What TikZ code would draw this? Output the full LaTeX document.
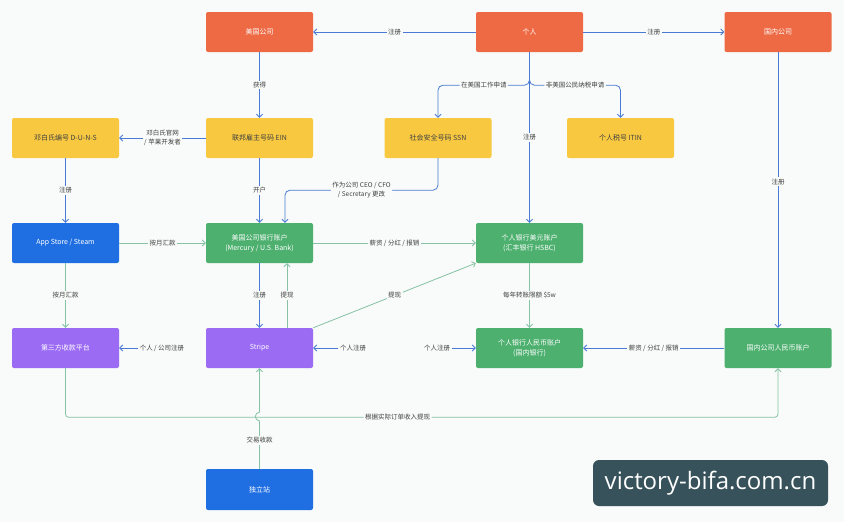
\documentclass[tikz,border=0pt]{standalone}
\usepackage{fontspec}
\setmainfont{Noto Sans CJK SC}
\newfontfamily\wmfont{Open Sans}
\usepackage{xcolor}
\usepackage{tikz}
\usetikzlibrary{arrows.meta}
\definecolor{bgc}{HTML}{F8FBF9}
\definecolor{cred}{HTML}{EE6A45}
\definecolor{cyel}{HTML}{F8C940}
\definecolor{cblue}{HTML}{1F6FE2}
\definecolor{cgreen}{HTML}{4DB06F}
\definecolor{cpurp}{HTML}{9B6BF3}
\definecolor{cline}{HTML}{4A7AD4}
\definecolor{cgline}{HTML}{86C2A4}
\definecolor{ctext}{HTML}{404040}
\definecolor{cwm}{HTML}{37525A}
\tikzstyle{basebox} = [rectangle, rounded corners=2pt, text centered, align=center, inner sep=2pt, minimum width=107pt, minimum height=40pt, font=\fontsize{7}{10}\selectfont, text=white]
\tikzstyle{redbox} = [basebox, fill=cred]
\tikzstyle{yelbox} = [basebox, fill=cyel, text=ctext]
\tikzstyle{bluebox} = [basebox, fill=cblue]
\tikzstyle{greenbox} = [basebox, fill=cgreen]
\tikzstyle{purpbox} = [basebox, fill=cpurp]
\tikzstyle{lbl} = [fill=bgc, inner sep=1.5pt, font=\fontsize{6.5}{9}\selectfont, text=ctext, align=center]
\tikzstyle{bl} = [draw=cline, line width=0.8pt, ->]
\tikzstyle{gr} = [draw=cgline, line width=0.8pt, ->]
\tikzset{>={Straight Barb[length=3pt,width=6pt]}}

\begin{document}
\begin{tikzpicture}[x=1pt,y=-1pt]
	\useasboundingbox (0,0) rectangle (844,522);
	\fill[bgc] (0,0) rectangle (844,522);
	% top row
	\node[redbox] (usco) at (259.5,32) {美国公司};
	\node[redbox] (ren) at (529.5,32) {个人};
	\node[redbox] (cnco) at (778,32) {国内公司};
	% numbers
	\node[yelbox] (duns) at (65.5,138) {邓白氏编号 D-U-N-S};
	\node[yelbox] (ein) at (259.5,138) {联邦雇主号码 EIN};
	\node[yelbox] (ssn) at (438,138) {社会安全号码 SSN};
	\node[yelbox] (itin) at (620.5,138) {个人税号 ITIN};
	% accounts
	\node[bluebox] (appstore) at (65.5,243) {App Store / Steam};
	\node[greenbox] (usbank) at (259.5,243) {美国公司银行账户\\(Mercury / U.S. Bank)};
	\node[greenbox] (hsbc) at (529.5,243) {个人银行美元账户\\(汇丰银行 HSBC)};
	% platforms
	\node[purpbox] (thirdpay) at (65.5,348) {第三方收款平台};
	\node[purpbox] (stripe) at (259.5,348) {Stripe};
	\node[greenbox] (rmb) at (529.5,348) {个人银行人民币账户\\(国内银行)};
	\node[greenbox] (cnrmb) at (778,348) {国内公司人民币账户};
	\node[bluebox, minimum height=41pt] (indep) at (259.5,489.5) {独立站};
	% free labels
	\node[lbl] (tpreg) at (162,348) {个人 / 公司注册};
	\node[lbl] (streg) at (353,348) {个人注册};
	\node[lbl] (rmbreg) at (437,348) {个人注册};
	% connectors
	\draw[bl] (ren.west) -- node[lbl] {注册} (usco.east);
	\draw[bl] (ren.east) -- node[lbl] {注册} (cnco.west);
	\draw[bl] (usco.south) -- node[lbl] {获得} (ein.north);
	\draw[bl] (ein.west) -- node[lbl] {邓白氏官网\\/ 苹果开发者} (duns.east);
	\draw[bl] (duns.south) -- node[lbl] {注册} (appstore.north);
	\draw[bl] (ein.south) -- node[lbl] {开户} (usbank.north);
	\draw[bl, rounded corners=5pt] (ren.south) -- ++(0,33) -| node[lbl, pos=0.25] {在美国工作申请} (ssn.north);
	\draw[bl, rounded corners=5pt] (ren.south) -- ++(0,33) -| node[lbl, pos=0.25] {非美国公民纳税申请} (itin.north);
	\draw[bl] (ren.south) -- node[lbl] {注册} (hsbc.north);
	\draw[bl, rounded corners=5pt] (ssn.south) -- ++(0,32) -| node[lbl, pos=0.25] {作为公司 CEO / CFO\\/ Secretary 更改} ([xshift=25.5pt]usbank.north);
	\draw[bl] (cnco.south) -- node[lbl, pos=0.47] {注册} (cnrmb.north);
	\draw[gr] (appstore.east) -- node[lbl] {按月汇款} (usbank.west);
	\draw[gr] (appstore.south) -- node[lbl] {按月汇款} (thirdpay.north);
	\draw[gr] (usbank.east) -- node[lbl] {薪资 / 分红 / 报销} (hsbc.west);
	\draw[bl] (usbank.south) -- node[lbl] {注册} (stripe.north);
	\draw[gr] ([xshift=27.5pt]stripe.north) -- node[lbl] {提现} ([xshift=27.5pt]usbank.south);
	\draw[gr] (stripe.north east) -- node[lbl] {提现} (hsbc.south west);
	\draw[gr] (hsbc.south) -- node[lbl] {每年转账限额 \$5w} (rmb.north);
	\draw[bl] (tpreg) -- (thirdpay.east);
	\draw[bl] (streg) -- (stripe.east);
	\draw[bl] (rmbreg) -- (rmb.west);
	\draw[bl] (cnrmb.west) -- node[lbl] {薪资 / 分红 / 报销} (rmb.east);
	\draw[gr, rounded corners=3pt] (thirdpay.south) -- ++(0,49) -| node[lbl, pos=0.233] {根据实际订单收入提现} (cnrmb.south);
	\draw[gr] (indep.north) -- node[lbl, pos=0.6] {交易收款} (259.5,421) .. controls (254,420) and (254,413) .. (259.5,412) -- (stripe.south);
	% watermark
	\node[fill=cwm, rounded corners=6pt, minimum width=235pt, minimum height=46pt, text=white, font=\wmfont\fontsize{24}{28}\selectfont] (wm) at (710.5,483) {victory-bifa.com.cn};
\end{tikzpicture}
\end{document}
